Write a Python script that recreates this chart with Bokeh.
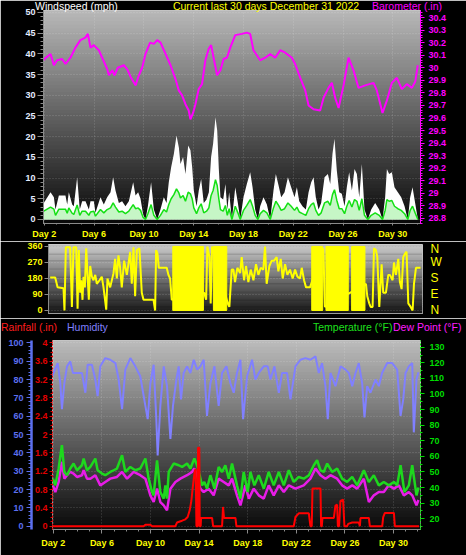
import numpy as np
from bokeh.plotting import figure
from bokeh.models import (Range1d, LinearAxis, FixedTicker, SingleIntervalTicker,
                          NumeralTickFormatter, BoxAnnotation, Div)
from bokeh.embed import file_html
from bokeh.resources import INLINE

# ---------------- data ----------------
day_ticks = [2, 6, 10, 14, 18, 22, 26, 30]
day_labels = ["Day 2", "Day 6", "Day 10", "Day 14", "Day 18", "Day 22", "Day 26", "Day 30"]
compass_ticks = [0, 90, 180, 270, 360]
compass_labels = ["N", "E", "S", "W", "N"]

# (day, gust mph, average mph)
wind_points = [
    (1.96, 4.0, 2.0), (2.50, 6.6, 3.0), (2.77, 5.4, 2.5), (2.90, 2.4, 1.0), (3.17, 5.8, 2.5),
    (3.70, 5.8, 2.5), (3.84, 3.6, 1.5), (3.97, 6.6, 2.8), (4.24, 3.6, 1.5), (4.37, 3.2, 1.2),
    (4.64, 10.2, 3.5), (4.85, 2.4, 1.0), (5.04, 4.4, 2.0), (5.31, 4.4, 2.0), (5.58, 2.4, 1.0),
    (5.71, 4.4, 1.8), (5.98, 4.4, 2.0), (6.11, 1.6, 0.8), (6.51, 5.4, 2.4), (6.78, 3.6, 1.6),
    (7.05, 5.4, 2.4), (7.32, 6.6, 2.8), (7.53, 10.2, 4.0), (7.72, 7.0, 3.0), (7.99, 4.0, 1.8),
    (8.25, 4.4, 2.0), (8.52, 3.2, 1.4), (8.79, 4.4, 2.0), (9.14, 9.0, 3.6), (9.33, 5.8, 2.6),
    (9.54, 6.6, 2.8), (9.73, 5.0, 2.2), (9.94, 1.2, 0.5), (10.13, 0.0, 0.0), (10.32, 3.2, 1.4),
    (10.58, 9.0, 3.6), (10.80, 2.4, 1.0), (11.07, 0.0, 0.0), (11.33, 2.4, 1.0), (11.60, 5.4, 2.4),
    (11.82, 4.0, 1.8), (12.00, 9.0, 3.6), (12.19, 12.6, 5.0), (12.41, 15.9, 6.0), (12.62, 20.3, 7.4),
    (12.81, 17.4, 6.4), (12.94, 13.4, 5.2), (13.15, 15.1, 5.8), (13.34, 11.0, 4.4), (13.56, 17.9, 6.6),
    (13.74, 16.7, 6.2), (13.88, 12.6, 5.0), (14.01, 7.0, 2.8), (14.23, 3.2, 1.4), (14.41, 7.0, 2.8),
    (14.60, 9.8, 3.8), (14.81, 4.0, 1.6), (15.03, 4.8, 2.0), (15.22, 6.6, 2.8), (15.40, 15.1, 5.8),
    (15.56, 18.3, 7.0), (15.75, 24.7, 9.6), (15.89, 21.5, 8.2), (16.02, 12.2, 5.0), (16.15, 5.4, 2.4),
    (16.37, 4.8, 2.0), (16.55, 8.6, 3.4), (16.70, 2.4, 1.0), (16.85, 6.6, 2.6), (17.07, 0.0, 0.0),
    (17.34, 7.8, 3.2), (17.55, 4.0, 1.6), (17.74, 0.0, 0.0), (18.00, 5.4, 2.2), (18.27, 8.6, 3.4),
    (18.54, 11.4, 4.8), (18.73, 7.8, 3.2), (18.94, 2.4, 1.0), (19.16, 0.0, 0.0), (19.34, 3.2, 1.4),
    (19.61, 5.4, 2.2), (19.88, 3.6, 1.6), (20.15, 0.0, 0.0), (20.41, 7.0, 2.8), (20.60, 11.0, 4.4),
    (20.82, 8.2, 3.4), (21.03, 5.4, 2.2), (21.30, 6.6, 2.6), (21.57, 10.2, 4.0), (21.83, 7.8, 3.2),
    (22.10, 5.4, 2.2), (22.29, 7.8, 3.0), (22.48, 4.4, 1.8), (22.74, 3.2, 1.4), (23.01, 2.4, 1.0),
    (23.23, 6.6, 2.6), (23.44, 9.0, 3.6), (23.63, 10.2, 4.0), (23.81, 5.4, 2.2), (24.03, 2.4, 1.0),
    (24.24, 4.0, 1.6), (24.51, 10.2, 4.0), (24.78, 11.0, 4.4), (24.97, 8.6, 3.4), (25.15, 15.9, 6.0),
    (25.31, 19.5, 7.2), (25.50, 11.8, 4.6), (25.69, 6.6, 2.6), (25.90, 6.2, 2.6), (26.12, 3.2, 1.4),
    (26.30, 7.8, 3.2), (26.49, 11.4, 4.6), (26.71, 7.0, 3.0), (26.92, 12.2, 4.8), (27.11, 11.0, 4.4),
    (27.30, 5.4, 2.2), (27.51, 13.4, 5.0), (27.72, 2.4, 1.0), (27.99, 0.0, 0.0), (28.26, 2.4, 1.0),
    (28.58, 4.0, 1.6), (28.90, 2.4, 1.0), (29.17, 0.0, 0.0), (29.38, 5.4, 2.2), (29.52, 12.2, 4.8),
    (29.70, 11.0, 4.4), (29.92, 11.4, 4.6), (30.13, 7.8, 3.2), (30.40, 6.6, 2.6), (30.67, 5.4, 2.2),
    (30.94, 3.2, 1.4), (31.20, 0.0, 0.0), (31.39, 5.4, 2.2), (31.58, 7.8, 3.2), (31.79, 4.0, 1.6),
    (32.01, 0.0, 0.0),
]
wind_day = [w[0] for w in wind_points]
wind_gust = [w[1] for w in wind_points]
wind_avg = [w[2] for w in wind_points]

baro_points = [
    (1.95, 30.06), (2.0, 30.07), (2.5, 30.11), (2.77, 30.02), (3.03, 30.06), (3.43, 30.07), (3.7, 30.03),
    (4.1, 30.08), (4.5, 30.16), (4.9, 30.22), (5.3, 30.24), (5.5, 30.27), (5.71, 30.16),
    (5.98, 30.18), (6.38, 30.14), (6.65, 30.08), (7.05, 29.99), (7.19, 29.94), (7.46, 29.98),
    (7.64, 29.94), (7.9, 30.0), (8.4, 30.02), (8.65, 29.99), (8.97, 29.92), (9.33, 29.86),
    (9.6, 29.94), (9.86, 30.0), (10.13, 30.11), (10.5, 30.2), (10.8, 30.19), (11.07, 30.22),
    (11.34, 30.2), (11.74, 30.11), (12.14, 30.02), (12.54, 29.91), (12.8, 29.82), (13.07, 29.78),
    (13.34, 29.71), (13.6, 29.66), (13.74, 29.59), (13.95, 29.64), (14.14, 29.71), (14.4, 29.83),
    (14.67, 29.87), (14.94, 30.06), (15.2, 30.15), (15.4, 30.18), (15.6, 30.08), (15.88, 29.94),
    (16.15, 29.98), (16.4, 30.07), (16.67, 30.08), (16.94, 30.16), (17.34, 30.26), (17.87, 30.27),
    (18.27, 30.28), (18.54, 30.27), (18.8, 30.14), (19.34, 30.06), (19.75, 30.08), (20.15, 30.11),
    (20.55, 30.08), (20.95, 30.14), (21.35, 30.12), (21.89, 30.08), (22.15, 30.03), (22.56, 29.92),
    (22.96, 29.82), (23.23, 29.7), (23.63, 29.67), (24.16, 29.66), (24.43, 29.76), (24.83, 29.84),
    (25.1, 29.88), (25.37, 29.76), (25.64, 29.68), (26.04, 29.86), (26.44, 30.08), (26.84, 29.98),
    (27.24, 29.84), (27.78, 29.86), (28.45, 29.88), (28.71, 29.82), (29.17, 29.64), (29.52, 29.74),
    (29.92, 29.88), (30.32, 29.92), (30.72, 29.83), (31.12, 29.87), (31.53, 29.84), (31.8, 29.89),
    (32.0, 30.02),
]
baro_day = [b[0] for b in baro_points]
baro_val = [b[1] for b in baro_points]

dir_points = [
    (2.07, 185), (2.48, 185), (2.67, 130), (3.15, 125), (3.23, 0), (3.34, 355), (3.69, 355),
    (3.83, 20), (3.96, 355), (4.18, 355), (4.29, 10), (4.39, 340), (4.50, 100), (4.58, 170),
    (4.69, 60), (4.77, 190), (4.88, 130), (4.99, 350), (5.10, 200), (5.20, 60), (5.31, 250),
    (5.45, 190), (5.58, 170), (5.72, 200), (5.85, 150), (6.07, 170), (6.25, 190), (6.39, 130),
    (6.61, 5), (6.71, 180), (6.93, 130), (7.20, 210), (7.33, 290), (7.47, 180), (7.60, 310),
    (7.74, 240), (7.87, 130), (8.06, 280), (8.28, 200), (8.55, 330), (8.68, 150), (8.82, 355),
    (8.95, 80), (9.09, 340), (9.30, 350), (9.49, 100), (9.63, 60), (9.90, 60), (10.44, 60),
    (10.57, 0), (10.65, 340), (10.76, 320), (10.87, 240), (10.97, 240), (11.24, 240), (11.51, 240),
    (11.65, 200), (11.78, 180), (11.92, 60), (14.54, 100), (14.70, 60), (14.80, 360), (14.97, 300),
    (15.07, 40), (15.18, 360), (16.45, 40), (16.58, 20), (16.77, 230), (16.91, 230), (17.04, 160),
    (17.23, 240), (17.45, 210), (17.58, 300), (17.77, 170), (17.93, 250), (18.12, 160), (18.31, 230),
    (18.53, 170), (18.74, 260), (18.93, 200), (19.12, 240), (19.33, 230), (19.47, 360), (19.60, 150),
    (19.82, 250), (20.01, 280), (20.20, 280), (20.41, 300), (20.55, 220), (20.74, 290), (20.90, 180),
    (21.09, 260), (21.28, 200), (21.49, 230), (21.71, 180), (21.90, 230), (22.09, 190), (22.30, 180),
    (22.44, 240), (22.63, 170), (22.79, 130), (22.98, 130), (23.11, 130), (24.19, 350), (24.32, 20),
    (27.64, 150), (27.75, 80), (27.91, 40), (28.02, 20), (28.18, 20), (28.29, 350), (28.45, 340),
    (28.56, 300), (28.72, 20), (28.91, 260), (29.04, 100), (29.26, 100), (29.45, 200), (29.58, 200),
    (29.80, 170), (29.91, 270), (30.07, 200), (30.26, 290), (30.39, 160), (30.53, 120), (30.66, 300),
    (30.80, 320), (30.93, 330), (31.07, 40), (31.26, 20), (31.42, 0), (31.53, 150), (31.69, 240),
    (31.88, 240), (32.06, 240),
]
dir_day = [d[0] for d in dir_points]
dir_deg = [d[1] for d in dir_points]
# periods where the direction flips continuously around north (solid blocks)
dir_flip_start = [12.00, 15.29, 23.25, 24.40, 26.48]
dir_flip_end = [14.48, 16.37, 24.14, 26.21, 27.56]

hum_points = [
    (1.95, 82.0), (2.03, 83.6), (2.36, 89.0), (2.58, 78.0), (2.71, 63.8), (2.91, 78.0), (3.13, 87.2),
    (3.40, 89.9), (3.62, 83.6), (3.95, 83.6), (4.36, 83.6), (4.64, 72.8), (4.83, 88.1), (5.18, 88.1),
    (5.46, 80.0), (5.65, 71.0), (5.87, 87.2), (6.28, 91.7), (6.69, 90.8), (7.11, 89.0), (7.38, 80.0),
    (7.66, 63.8), (7.93, 85.4), (8.34, 91.7), (8.75, 87.2), (9.16, 81.8), (9.58, 65.6), (9.77, 58.4),
    (9.99, 78.0), (10.26, 88.1), (10.48, 58.4), (10.59, 38.6), (10.81, 65.6), (11.09, 87.2),
    (11.36, 76.4), (11.64, 47.6), (11.85, 65.6), (12.13, 80.0), (12.32, 87.2), (12.51, 69.2),
    (12.73, 83.6), (13.01, 87.2), (13.28, 83.6), (13.56, 90.8), (13.83, 85.4), (14.10, 87.2),
    (14.38, 90.8), (14.65, 60.2), (14.93, 78.0), (15.26, 87.2), (15.61, 65.6), (15.89, 83.6),
    (16.25, 87.2), (16.58, 78.0), (16.85, 72.8), (17.12, 83.6), (17.40, 90.8), (17.62, 58.4),
    (17.95, 81.8), (18.36, 90.8), (18.63, 80.0), (18.91, 83.6), (19.32, 87.2), (19.65, 87.2),
    (19.87, 80.0), (20.20, 87.2), (20.56, 72.8), (20.83, 83.6), (21.24, 83.6), (21.52, 69.2),
    (21.93, 87.2), (22.34, 90.8), (22.75, 91.7), (23.16, 90.8), (23.58, 92.6), (23.85, 83.6),
    (24.12, 89.0), (24.40, 76.4), (24.59, 58.4), (24.81, 83.6), (25.22, 76.4), (25.64, 87.2),
    (26.05, 85.4), (26.32, 83.6), (26.60, 76.4), (26.87, 83.6), (27.14, 89.0), (27.42, 78.0),
    (27.61, 59.3), (27.83, 76.4), (28.10, 72.8), (28.52, 80.0), (28.79, 76.4), (29.06, 83.6),
    (29.48, 89.0), (29.89, 89.0), (30.30, 85.4), (30.58, 60.2), (30.80, 69.2), (30.99, 83.6),
    (31.26, 87.2), (31.54, 89.0), (31.67, 51.2), (31.89, 80.0), (32.05, 84.0),
]
hum_day = [h[0] for h in hum_points]
hum_val = [h[1] for h in hum_points]

temp_points = [
    (1.97, 45.7), (2.17, 41.4), (2.44, 52.2), (2.71, 67.2), (2.91, 50.0), (3.13, 47.9), (3.40, 52.2),
    (3.67, 55.4), (3.95, 51.1), (4.36, 54.3), (4.50, 58.6), (4.77, 51.1), (5.05, 53.2), (5.46, 58.6),
    (5.65, 51.1), (6.01, 49.0), (6.28, 47.9), (6.69, 50.0), (6.97, 51.1), (7.24, 52.2), (7.66, 60.8),
    (7.93, 50.0), (8.34, 53.2), (8.75, 51.1), (9.16, 52.2), (9.58, 58.6), (9.85, 45.7), (10.13, 37.1),
    (10.26, 35.0), (10.54, 57.5), (10.81, 37.1), (11.09, 32.9), (11.22, 41.4), (11.36, 32.9),
    (11.50, 50.0), (11.91, 55.4), (12.32, 54.3), (12.60, 53.2), (13.01, 55.4), (13.28, 52.2),
    (13.61, 58.6), (13.83, 54.3), (14.05, 47.9), (14.24, 41.4), (14.43, 43.6), (14.65, 39.3),
    (14.93, 47.9), (15.26, 39.3), (15.61, 53.2), (15.89, 50.0), (16.16, 54.3), (16.44, 45.7),
    (16.71, 55.4), (17.12, 41.4), (17.40, 32.9), (17.67, 50.0), (18.00, 37.1), (18.22, 50.0),
    (18.55, 41.4), (18.91, 47.9), (19.32, 39.3), (19.73, 50.0), (20.14, 41.4), (20.56, 50.0),
    (20.97, 41.4), (21.38, 51.1), (21.79, 43.6), (22.20, 46.8), (22.61, 45.7), (23.03, 47.9),
    (23.44, 54.3), (23.71, 57.5), (23.99, 51.1), (24.26, 50.0), (24.54, 55.4), (24.95, 50.0),
    (25.36, 52.2), (25.77, 45.7), (26.18, 43.6), (26.60, 46.8), (27.01, 41.4), (27.56, 51.1),
    (27.97, 43.6), (28.38, 47.9), (28.79, 41.4), (29.20, 43.6), (29.61, 41.4), (30.03, 43.6),
    (30.30, 41.4), (30.58, 54.3), (30.90, 37.1), (31.26, 41.4), (31.54, 54.3), (31.89, 35.0),
    (32.05, 40.0),
]
temp_day = [t[0] for t in temp_points]
temp_val = [t[1] for t in temp_points]

dew_points = [
    (1.97, 41.4), (2.17, 37.1), (2.44, 43.6), (2.71, 56.5), (2.91, 45.7), (3.13, 47.9), (3.40, 50.0),
    (3.67, 49.0), (3.95, 46.8), (4.36, 47.9), (4.50, 51.1), (4.77, 45.7), (5.05, 45.7), (5.46, 47.9),
    (5.87, 41.4), (6.28, 43.6), (6.69, 45.7), (7.24, 46.8), (7.66, 50.0), (8.07, 45.7), (8.62, 50.0),
    (9.16, 47.9), (9.58, 45.7), (9.99, 35.0), (10.26, 30.7), (10.54, 39.3), (10.81, 30.7),
    (11.09, 28.6), (11.36, 25.4), (11.64, 39.3), (12.05, 43.6), (12.46, 45.7), (13.01, 47.9),
    (13.42, 50.0), (13.61, 52.2), (13.83, 47.9), (14.10, 39.3), (14.38, 37.1), (14.79, 39.3),
    (15.20, 35.0), (15.61, 45.7), (16.03, 43.6), (16.44, 41.4), (16.71, 45.7), (17.12, 35.0),
    (17.40, 28.6), (17.81, 41.4), (18.09, 32.9), (18.50, 39.3), (18.91, 35.0), (19.32, 32.9),
    (19.73, 41.4), (20.14, 35.0), (20.56, 41.4), (20.97, 37.1), (21.38, 41.4), (21.93, 39.3),
    (22.61, 41.4), (23.16, 45.7), (23.58, 52.2), (23.99, 47.9), (24.40, 45.7), (24.81, 47.9),
    (25.36, 45.7), (25.77, 41.4), (26.18, 39.3), (26.60, 41.4), (27.01, 39.3), (27.56, 45.7),
    (27.97, 30.7), (28.38, 35.0), (28.79, 37.1), (29.20, 37.1), (29.61, 41.4), (30.03, 39.3),
    (30.44, 41.4), (30.85, 35.0), (31.26, 37.1), (31.54, 35.0), (31.89, 28.6), (32.05, 32.0),
]
dew_day = [d[0] for d in dew_points]
dew_val = [d[1] for d in dew_points]

rain_points = [
    (1.95, 0.0), (9.44, 0.0), (9.58, 0.03), (9.99, 0.03), (10.13, 0.0), (12.05, 0.0), (12.18, 0.08),
    (12.60, 0.12), (12.87, 0.15), (13.06, 0.2), (13.23, 0.35), (13.36, 0.55), (13.50, 0.9),
    (13.64, 1.2), (13.72, 1.25), (13.78, 0.0), (13.89, 0.0), (13.91, 1.71), (14.02, 1.71),
    (14.05, 0.0), (14.13, 0.0), (14.16, 0.18), (15.07, 0.18), (15.15, 0.0), (15.89, 0.0),
    (15.97, 0.42), (16.05, 0.18), (16.99, 0.18), (17.07, 0.0), (21.79, 0.0), (21.93, 0.2),
    (22.20, 0.28), (23.03, 0.28), (23.16, 0.0), (23.27, 0.0), (23.33, 0.82), (23.99, 0.82),
    (24.04, 0.0), (24.10, 0.0), (24.15, 0.18), (25.09, 0.18), (25.22, 0.45), (25.36, 0.47),
    (25.42, 0.0), (25.52, 0.0), (25.63, 0.55), (25.85, 0.58), (25.96, 0.0), (26.18, 0.0),
    (26.27, 0.05), (26.60, 0.08), (27.14, 0.08), (27.23, 0.0), (27.28, 0.18), (27.97, 0.18),
    (28.05, 0.0), (29.07, 0.0), (29.15, 0.2), (29.29, 0.29), (30.03, 0.29), (30.11, 0.0),
    (32.1, 0.0),
]
rain_day = [r[0] for r in rain_points]
rain_val = [r[1] for r in rain_points]

# titles: (text, colour)
top_titles = [("Windspeed (mph)", "#ffffff"),
              ("Current last 30 days December 31 2022", "#ffff00"),
              ("Barometer (.in)", "#ff00ff")]
bottom_titles = [("Rainfall (.in)", "#ff1e1e"), ("Humidity", "#8080ff"),
                 ("Temperature (\u00b0F)", "#1ee01e"), ("Dew Point (\u00b0F)", "#ff1eff")]

# ---------------- styling helpers ----------------
X0, X1 = 1.936, 32.22
FONT = "Liberation Sans"
W = 466


def place(top):
    return {"position": "absolute", "left": "0px", "top": "%dpx" % top,
            "margin": "0px", "padding": "0px"}


def base_fig(height, left, right, top, bottom, y_range, page_top):
    p = figure(width=W, height=height, x_range=Range1d(X0, X1), y_range=y_range,
               output_backend="svg", toolbar_location=None,
               min_border_left=left, min_border_right=right,
               min_border_top=top, min_border_bottom=bottom,
               background_fill_color="black", border_fill_color="black",
               outline_line_color="#c8c8c8", outline_line_width=1,
               styles=place(page_top))
    return p


def gradient(p, y0, y1, top_grey, bottom_grey, n=60):
    step = (y1 - y0) / n
    for i in range(n):
        f = (i + 0.5) / n
        g = int(round(bottom_grey + (top_grey - bottom_grey) * f))
        col = "#%02x%02x%02x" % (g, g, g)
        top = min(y0 + (i + 1.4) * step, y1)
        p.add_layout(BoxAnnotation(bottom=y0 + i * step, top=top, fill_color=col,
                                   fill_alpha=1.0, line_alpha=0, level="image"))


def style_axis(ax, label_color, tick_color, line_color, size="9px", tick_out=4,
               minor_out=2, standoff=3, bold=True):
    ax.major_label_text_color = label_color
    ax.major_label_text_font = FONT
    ax.major_label_text_font_size = size
    ax.major_label_text_font_style = "bold" if bold else "normal"
    ax.major_tick_line_color = tick_color
    ax.minor_tick_line_color = tick_color
    ax.axis_line_color = line_color
    ax.major_tick_in = 0
    ax.major_tick_out = tick_out
    ax.minor_tick_in = 0
    ax.minor_tick_out = minor_out
    ax.major_label_standoff = standoff


def style_grid(g, ticker=None):
    g.grid_line_color = "#ffffff"
    g.grid_line_alpha = 0.22
    g.grid_line_dash = "1 2"
    if ticker is not None:
        g.ticker = ticker


def header_div(titles, lefts, aligns, top):
    spans = []
    for (text, color), left, align in zip(titles, lefts, aligns):
        shift = "transform:translateX(-50%);" if align == "center" else ""
        spans.append(
            '<span style="position:absolute;left:%dpx;top:0px;color:%s;white-space:nowrap;%s">%s</span>'
            % (left, color, shift, text))
    html = ('<div style="position:relative;width:%dpx;height:12px;font-family:\'%s\';'
            'font-size:10.5px;line-height:12px;">%s</div>' % (W, FONT, "".join(spans)))
    return Div(text=html, width=W, height=12, styles=place(top))


day_minor = list(range(2, 33))

# ---------------- panel 1: wind speed & barometer ----------------
p1 = base_fig(241, 43, 46, 10, 18, Range1d(-0.97, 50.48), 0)
p1.extra_y_ranges = {"baro": Range1d(28.76, 30.456)}
gradient(p1, -0.97, 50.48, 0xb8, 0x08)

wt = SingleIntervalTicker(interval=5, num_minor_ticks=5)
ya = p1.yaxis[0]
ya.ticker = wt
style_axis(ya, "#e4ecff", "#8a8a8a", "#8a8a8a", tick_out=6, minor_out=3, standoff=2)
xa = p1.xaxis[0]
xt = FixedTicker(ticks=day_ticks, minor_ticks=day_minor)
xa.ticker = xt
xa.major_label_overrides = dict(zip(day_ticks, day_labels))
style_axis(xa, "#ffff00", "#8a8a8a", "#8a8a8a", tick_out=2, minor_out=1, standoff=3)
style_grid(p1.ygrid[0], wt)
style_grid(p1.xgrid[0], xt)

bax = LinearAxis(y_range_name="baro", ticker=SingleIntervalTicker(interval=0.1, num_minor_ticks=5),
                 formatter=NumeralTickFormatter(format="0.[0]"))
style_axis(bax, "#ff00ff", "#ff00ff", "#ff00ff", tick_out=4, minor_out=2, standoff=4)
p1.add_layout(bax, "right")

p1.varea(x=wind_day, y1=0, y2=wind_gust, fill_color="#ffffff")
p1.varea(x=wind_day, y1=0, y2=wind_avg, fill_color="#c6f6c6")
p1.line(wind_day, wind_avg, line_color="#14e014", line_width=1.5)
p1.line(baro_day, baro_val, y_range_name="baro", line_color="#ff00ff", line_width=2)

# ---------------- panel 2: wind direction ----------------
p2 = base_fig(77, 48, 44, 3, 5, Range1d(-17, 371), 241)
gradient(p2, -17, 371, 0xcc, 0x14)
for a in p2.xaxis:
    a.visible = False
for g in p2.xgrid:
    g.visible = False
ct = FixedTicker(ticks=compass_ticks)
da = p2.yaxis[0]
da.ticker = ct
style_axis(da, "#ffff00", "#8a8a8a", "#8a8a8a", tick_out=4, standoff=2)
style_grid(p2.ygrid[0], ct)
cax = LinearAxis(ticker=FixedTicker(ticks=compass_ticks),
                 major_label_overrides=dict(zip(compass_ticks, compass_labels)))
style_axis(cax, "#ffff00", None, None, size="12px", tick_out=0, minor_out=0, standoff=8, bold=False)
p2.add_layout(cax, "right")

p2.quad(left=dir_flip_start, right=dir_flip_end, bottom=0, top=360,
        fill_color="#ffff00", line_color="#ffff00")
p2.line(dir_day, dir_deg, line_color="#ffff00", line_width=2)

# ---------------- panel 3: rain, humidity, temperature, dew point ----------------
p3 = base_fig(237, 52, 46, 22, 26, Range1d(-0.072, 4.052), 318)
p3.extra_y_ranges = {"hum": Range1d(-1.8, 101.3), "temp": Range1d(13.1, 134.3)}
gradient(p3, -0.072, 4.052, 0xbc, 0x08)

rt = SingleIntervalTicker(interval=0.4, num_minor_ticks=4)
ra = p3.yaxis[0]
ra.ticker = rt
ra.formatter = NumeralTickFormatter(format="0.[0]")
style_axis(ra, "#e00000", "#e00000", "#e00000", tick_out=3, minor_out=2, standoff=2)
ra.axis_line_dash = "2 2"
style_grid(p3.ygrid[0], rt)
xb = p3.xaxis[0]
xt3 = FixedTicker(ticks=day_ticks, minor_ticks=day_minor)
xb.ticker = xt3
xb.major_label_overrides = dict(zip(day_ticks, day_labels))
style_axis(xb, "#ffff00", "#8a8a8a", "#8a8a8a", tick_out=4, minor_out=2, standoff=4)
style_grid(p3.xgrid[0], xt3)

hax = LinearAxis(y_range_name="hum", ticker=SingleIntervalTicker(interval=10, num_minor_ticks=5))
style_axis(hax, "#5c70f0", "#5c70f0", "#5c70f0", tick_out=5, minor_out=3, standoff=3)
hax.axis_line_width = 2.5
p3.add_layout(hax, "left")

tax = LinearAxis(y_range_name="temp", ticker=SingleIntervalTicker(interval=10, num_minor_ticks=2))
style_axis(tax, "#00dd00", "#00dd00", "#00dd00", tick_out=4, minor_out=2, standoff=5)
tax.axis_line_dash = "2 2"
p3.add_layout(tax, "right")

p3.line(hum_day, hum_val, y_range_name="hum", line_color="#8080ff", line_width=2)
p3.line(dew_day, dew_val, y_range_name="temp", line_color="#e81ce8", line_width=2.5)
p3.line(temp_day, temp_val, y_range_name="temp", line_color="#1ed81e", line_width=2.5)
p3.line(rain_day, rain_val, line_color="#ff0000", line_width=2)

# ---------------- titles (HTML text over the plot borders) ----------------
d1 = header_div(top_titles, [35, 266, 372], ["left", "center", "left"], 0)
d3 = header_div(bottom_titles, [1, 67, 313, 393], ["left", "left", "left", "left"], 321)

open("out.html", "w").write(file_html([p1, p2, p3, d1, d3], INLINE))
